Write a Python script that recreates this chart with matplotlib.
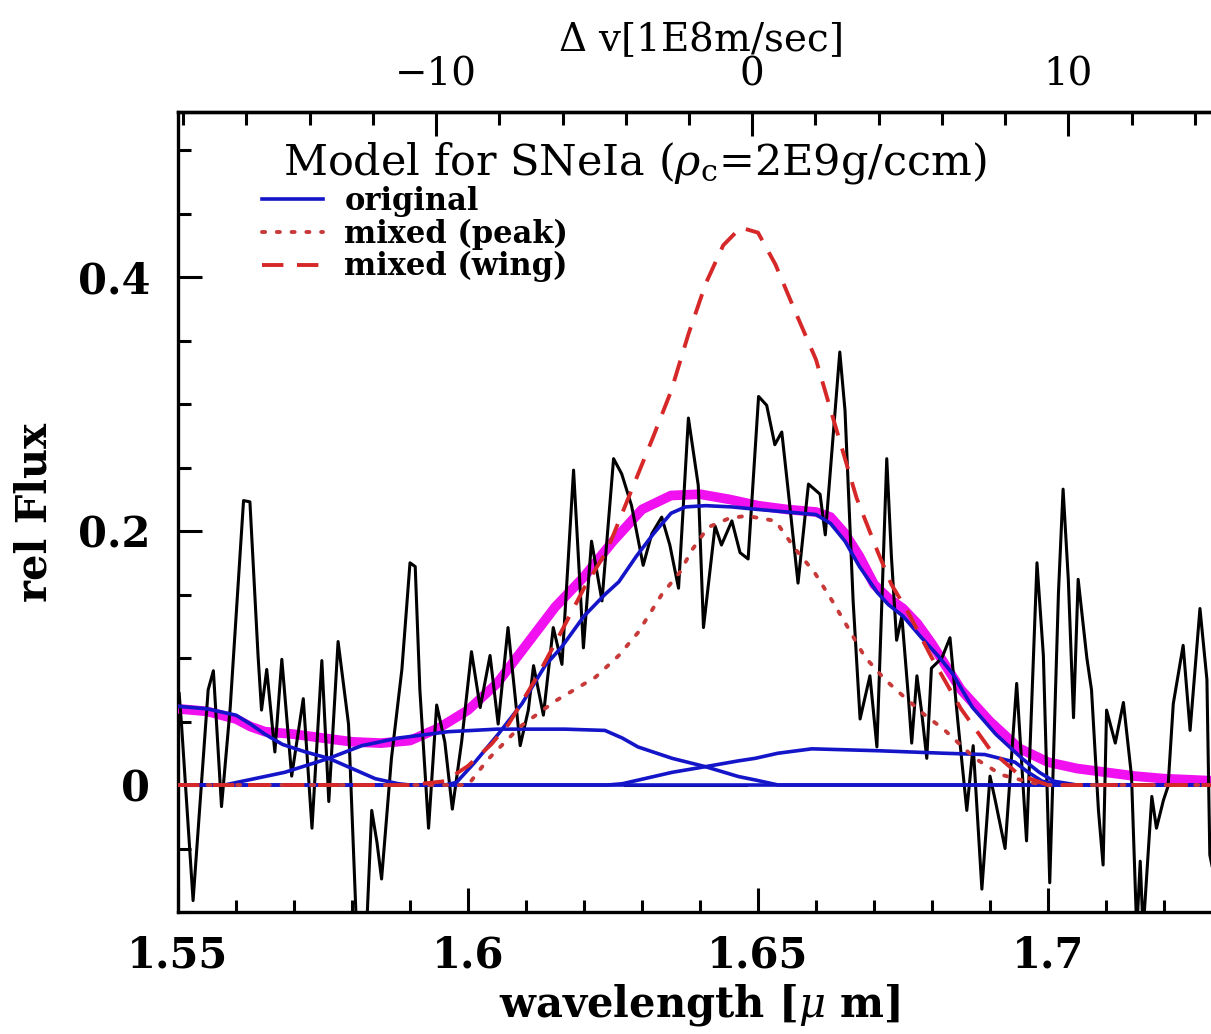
import matplotlib
matplotlib.use("Agg")
from matplotlib import pyplot as plt
from matplotlib.ticker import MultipleLocator, FuncFormatter

# observed spectrum (black)
wave_obs = [1.5502, 1.5506, 1.5526, 1.5552, 1.5561, 1.5575, 1.5590, 1.5613, 1.5624, 1.5638,
            1.5644, 1.5653, 1.5667, 1.5679, 1.5696, 1.5716, 1.5731, 1.5748, 1.5760, 1.5776,
            1.5794, 1.5808, 1.5825, 1.5834, 1.5843, 1.5851, 1.5868, 1.5886, 1.5900, 1.5909,
            1.5917, 1.5932, 1.5946, 1.5960, 1.5973, 1.5989, 1.6006, 1.6021, 1.6038, 1.6052,
            1.6069, 1.6090, 1.6104, 1.6113, 1.6130, 1.6147, 1.6162, 1.6182, 1.6199, 1.6213,
            1.6231, 1.6251, 1.6265, 1.6282, 1.6302, 1.6317, 1.6334, 1.6348, 1.6363, 1.6380,
            1.6397, 1.6406, 1.6426, 1.6437, 1.6455, 1.6469, 1.6483, 1.6501, 1.6515, 1.6529,
            1.6541, 1.6552, 1.6569, 1.6587, 1.6607, 1.6616, 1.6641, 1.6650, 1.6664, 1.6676,
            1.6693, 1.6705, 1.6722, 1.6730, 1.6739, 1.6748, 1.6759, 1.6765, 1.6774, 1.6782,
            1.6791, 1.6799, 1.6817, 1.6831, 1.6845, 1.6860, 1.6871, 1.6886, 1.6900, 1.6909,
            1.6926, 1.6946, 1.6963, 1.6981, 1.6992, 1.7003, 1.7018, 1.7026, 1.7035, 1.7044,
            1.7052, 1.7067, 1.7075, 1.7087, 1.7095, 1.7101, 1.7116, 1.7130, 1.7144, 1.7153,
            1.7159, 1.7164, 1.7179, 1.7187, 1.7199, 1.7207, 1.7216, 1.7233, 1.7245, 1.7262,
            1.7274, 1.7279, 1.7290]
flux_obs = [0.072, 0.048, -0.091, 0.075, 0.090, -0.017, 0.061, 0.224, 0.223, 0.102,
            0.059, 0.091, 0.026, 0.099, 0.007, 0.068, -0.034, 0.098, -0.013, 0.113,
            0.048, -0.115, -0.115, -0.020, -0.045, -0.074, 0.021, 0.091, 0.175, 0.172,
            0.075, -0.034, 0.063, 0.034, -0.019, 0.034, 0.105, 0.061, 0.102, 0.048,
            0.124, 0.031, 0.059, 0.094, 0.055, 0.124, 0.095, 0.248, 0.108, 0.192,
            0.145, 0.257, 0.245, 0.220, 0.173, 0.198, 0.211, 0.189, 0.155, 0.289,
            0.236, 0.124, 0.204, 0.189, 0.208, 0.183, 0.178, 0.306, 0.299, 0.268,
            0.278, 0.232, 0.159, 0.237, 0.229, 0.197, 0.341, 0.295, 0.145, 0.052,
            0.086, 0.030, 0.257, 0.180, 0.114, 0.133, 0.071, 0.033, 0.086, 0.058,
            0.021, 0.092, 0.100, 0.116, 0.048, -0.020, 0.031, -0.082, 0.007, -0.012,
            -0.050, 0.080, -0.044, 0.175, 0.102, -0.077, 0.151, 0.233, 0.162, 0.053,
            0.162, 0.100, 0.075, -0.020, -0.063, 0.059, 0.033, 0.065, 0.007, -0.115,
            -0.060, -0.115, -0.009, -0.034, -0.012, -0.001, 0.064, 0.110, 0.043, 0.139,
            0.083, -0.055, -0.080]

# total fit (magenta)
wave_tot = [1.55, 1.555, 1.56, 1.5625, 1.565, 1.57, 1.575, 1.58, 1.585, 1.59, 1.595, 1.60,
            1.605, 1.61, 1.615, 1.62, 1.625, 1.63, 1.635, 1.64, 1.645, 1.65, 1.655, 1.66,
            1.6625, 1.665, 1.6675, 1.67, 1.6725, 1.675, 1.6775, 1.68, 1.685, 1.69, 1.695,
            1.70, 1.705, 1.71, 1.715, 1.72, 1.73]
flux_tot = [0.060, 0.058, 0.052, 0.046, 0.042, 0.040, 0.037, 0.034, 0.033, 0.035, 0.045, 0.059,
            0.080, 0.110, 0.140, 0.164, 0.192, 0.217, 0.228, 0.229, 0.225, 0.220, 0.217, 0.215,
            0.211, 0.198, 0.180, 0.158, 0.147, 0.139, 0.127, 0.111, 0.075, 0.050, 0.029,
            0.018, 0.013, 0.010, 0.007, 0.005, 0.003]

# original model (blue)
wave_orig = [1.55, 1.596, 1.598, 1.6012, 1.6052, 1.6093, 1.6133, 1.6162, 1.62, 1.6236, 1.626,
             1.629, 1.632, 1.635, 1.6375, 1.641, 1.6455, 1.65, 1.655, 1.66, 1.6625, 1.665,
             1.6675, 1.6705, 1.6725, 1.675, 1.678, 1.681, 1.6835, 1.687, 1.691, 1.6955,
             1.6985, 1.701, 1.705, 1.73]
flux_orig = [0.0, 0.0, 0.002, 0.018, 0.040, 0.064, 0.094, 0.109, 0.133, 0.150, 0.160,
             0.180, 0.198, 0.214, 0.219, 0.220, 0.219, 0.217, 0.215, 0.213, 0.206, 0.192,
             0.172, 0.152, 0.142, 0.133, 0.117, 0.102, 0.088, 0.061, 0.040, 0.021,
             0.010, 0.003, 0.0, 0.0]

# mixed (peak), dotted
wave_peak = [1.55, 1.60, 1.6034, 1.609, 1.615, 1.622, 1.626, 1.6293, 1.6334, 1.6366, 1.6386,
             1.6414, 1.645, 1.648, 1.653, 1.6564, 1.6598, 1.6628, 1.6655, 1.6684, 1.6719,
             1.6748, 1.6788, 1.682, 1.6874, 1.692, 1.697, 1.70, 1.73]
flux_peak = [0.0, 0.0, 0.020, 0.046, 0.066, 0.085, 0.102, 0.120, 0.150, 0.168, 0.185,
             0.203, 0.210, 0.212, 0.208, 0.186, 0.167, 0.145, 0.124, 0.101, 0.083,
             0.071, 0.055, 0.044, 0.021, 0.008, 0.002, 0.0, 0.0]

# mixed (wing), dashed
wave_wing = [1.55, 1.59, 1.596, 1.60, 1.604, 1.607, 1.612, 1.616, 1.62, 1.624, 1.628, 1.632,
             1.635, 1.638, 1.641, 1.644, 1.647, 1.65, 1.653, 1.6565, 1.66, 1.663, 1.667,
             1.6707, 1.673, 1.676, 1.68, 1.685, 1.69, 1.695, 1.70, 1.73]
flux_wing = [0.0, 0.0, 0.003, 0.015, 0.032, 0.048, 0.086, 0.120, 0.155, 0.185, 0.230, 0.275,
             0.310, 0.355, 0.395, 0.425, 0.439, 0.435, 0.410, 0.372, 0.335, 0.288, 0.226,
             0.183, 0.158, 0.135, 0.100, 0.060, 0.028, 0.008, 0.0, 0.0]

# blue line components
wave_c1 = [1.55, 1.555, 1.56, 1.5625, 1.565, 1.568, 1.572, 1.576, 1.58, 1.584, 1.588, 1.59, 1.73]
flux_c1 = [0.062, 0.060, 0.055, 0.048, 0.040, 0.032, 0.026, 0.021, 0.013, 0.005, 0.001, 0.0, 0.0]
wave_c2 = [1.55, 1.558, 1.5684, 1.576, 1.5817, 1.588, 1.5966, 1.605, 1.6167, 1.6236, 1.6266,
           1.6293, 1.6352, 1.6409, 1.6466, 1.6495, 1.6535, 1.73]
flux_c2 = [0.0, 0.0, 0.010, 0.021, 0.031, 0.037, 0.042, 0.044, 0.044, 0.043, 0.037,
           0.030, 0.021, 0.0145, 0.0067, 0.004, 0.0, 0.0]
wave_c3 = [1.55, 1.624, 1.6266, 1.6352, 1.641, 1.6466, 1.6495, 1.6534, 1.6593, 1.6707,
           1.6822, 1.6891, 1.6943, 1.6966, 1.699, 1.702, 1.73]
flux_c3 = [0.0, 0.0, 0.001, 0.010, 0.0145, 0.019, 0.021, 0.025, 0.0285, 0.027,
           0.025, 0.024, 0.018, 0.010, 0.003, 0.0, 0.0]

# residual stretch at zero (black)
wave_zero = [1.627, 1.648]
flux_zero = [0.0, 0.0]

plt.rcParams["font.family"] = "DejaVu Serif"
plt.rcParams["mathtext.fontset"] = "dejavuserif"

W, H = 1211, 1034
fig = plt.figure(figsize=(W / 100, H / 100), dpi=100)
ax = fig.add_axes([178 / W, 1 - 912 / H, (1222 - 178) / W, 800 / H])

blue = "#1414c8"
red = "#d62828"
ax.plot(wave_tot, flux_tot, color="#f010f0", lw=7, zorder=3, solid_capstyle="round",
        solid_joinstyle="round")
ax.plot(wave_obs, flux_obs, color="black", lw=2.2, zorder=4)
ax.plot(wave_zero, flux_zero, color="black", lw=2.2, zorder=4)
for w, f in [(wave_c1, flux_c1), (wave_c2, flux_c2), (wave_c3, flux_c3)]:
    ax.plot(w, f, color=blue, lw=2.6, zorder=5)
l_orig, = ax.plot(wave_orig, flux_orig, color=blue, lw=2.6, zorder=5, label="original")
l_peak, = ax.plot(wave_peak, flux_peak, color="#c83a3a", lw=2.8, zorder=6,
                  dashes=(0.8, 3.0), dash_capstyle="round", label="mixed (peak)")
l_wing, = ax.plot(wave_wing, flux_wing, color=red, lw=2.8, zorder=6,
                  dashes=(5.5, 3.5), label="mixed (wing)")

ax.set_xlim(1.55, 1.73)
ax.set_ylim(-0.1, 0.53)
ax.xaxis.set_major_locator(MultipleLocator(0.05))
ax.xaxis.set_minor_locator(MultipleLocator(0.01))
ax.yaxis.set_major_locator(MultipleLocator(0.2))
ax.yaxis.set_minor_locator(MultipleLocator(0.05))
fmt = FuncFormatter(lambda v, p: "%g" % round(v, 3))
ax.xaxis.set_major_formatter(fmt)
ax.yaxis.set_major_formatter(fmt)
ax.tick_params(which="both", direction="in", width=2.2, top=False, right=False,
               labelsize=30)
ax.tick_params(which="major", length=17)
ax.tick_params(which="minor", length=9)
ax.tick_params(axis="x", pad=16)
ax.tick_params(axis="y", pad=20)
for lab in ax.get_xticklabels() + ax.get_yticklabels():
    lab.set_fontweight("bold")
for s in ax.spines.values():
    s.set_linewidth(2.4)

ax.set_xlabel(r"wavelength [$\mu$ m]", fontsize=30, fontweight="bold", labelpad=4)
ax.set_ylabel("rel Flux", fontsize=30, fontweight="bold", labelpad=16)

sec = ax.secondary_xaxis("top", functions=(lambda w: (w - 1.649) / 0.00545,
                                            lambda v: 1.649 + 0.00545 * v))
sec.set_xticks([-10, 0, 10])
sec.xaxis.set_minor_locator(MultipleLocator(2))
sec.tick_params(which="both", direction="in", width=2.2, labelsize=28, pad=13)
sec.tick_params(which="major", length=17)
sec.tick_params(which="minor", length=9)
sec.spines["top"].set_linewidth(2.4)
sec.set_xlabel(r"$\Delta$ v[1E8m/sec]", fontsize=28, labelpad=4)

fig.text(283 / W, 1 - 163 / H, r"Model for SNeIa ($\rho_{\rm c}$=2E9g/ccm)",
         fontsize=31, va="center", ha="left")
ax.legend(handles=[l_orig, l_peak, l_wing], loc="upper left",
          bbox_to_anchor=(262 / W, 1 - 186 / H), bbox_transform=fig.transFigure,
          frameon=False, borderpad=0, borderaxespad=0, handlelength=2.0,
          handletextpad=0.7, labelspacing=0.05, prop=dict(size=22, weight="bold"))

fig.savefig("out.png", dpi=100)
